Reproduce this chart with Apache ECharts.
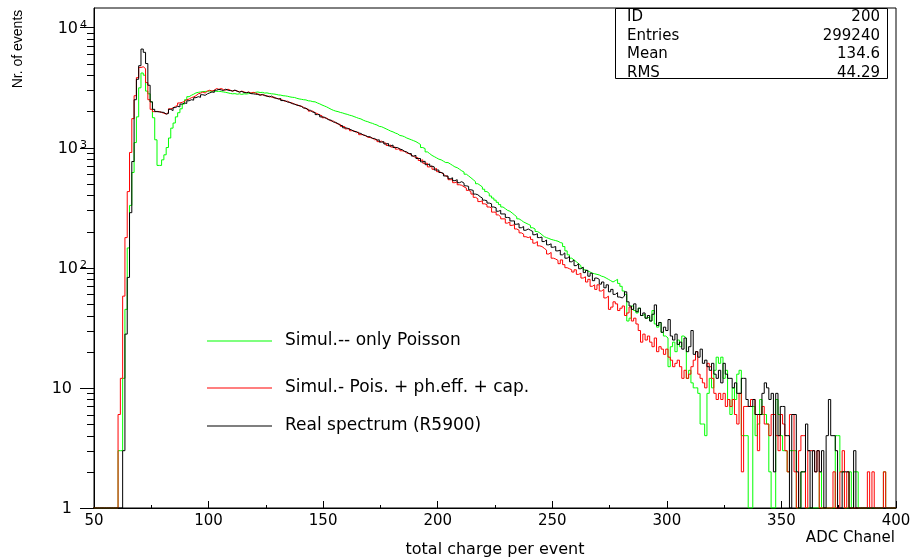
<!DOCTYPE html>
<html><head><meta charset="utf-8">
<script src="https://cdn.jsdelivr.net/npm/echarts@6/dist/echarts.min.js"></script>
<style>html,body{margin:0;padding:0;background:#fff}#c{width:920px;height:560px}</style>
</head><body><div id="c"></div>
<script>
// ---------------- data (counts per ADC channel, first channel = 50) ----------------
const firstChannel = 50;
const lastEdge = 400;

const realSpectrum = [
0,0,0,0,0,0,0,0,0,0,
0,0,0,3,28,83,287,765,2500,3700,
4800,6600,6200,5000,3300,2400,2080,1990,1980,1970,
1960,1900,1920,2080,2030,2150,2200,2180,2300,2350,
2330,2450,2500,2480,2600,2650,2620,2750,2720,2800,
2850,2900,2880,3000,3050,3020,2980,3060,3000,2980,
2950,3010,2940,2900,2930,2870,2860,2880,2810,2800,
2780,2770,2720,2770,2700,2690,2640,2680,2590,2580,
2530,2560,2460,2450,2390,2380,2320,2300,2250,2240,
2200,2130,2130,2050,2040,1970,1960,1880,1880,1800,
1790,1740,1700,1690,1630,1620,1580,1530,1520,1460,
1450,1420,1400,1360,1360,1320,1310,1270,1260,1230,
1230,1190,1190,1150,1160,1110,1120,1070,1080,1030,
1050,1000,1000,970,960,930,920,890,890,850,
860,810,810,760,770,720,730,700,690,650,
650,620,610,580,580,550,560,530,540,510,
520,505,480,475,445,440,410,405,390,380,
365,360,345,340,320,315,295,300,280,280,
262,260,245,245,230,232,215,220,205,210,
205,200,188,192,178,180,165,170,155,158,
148,150,138,140,128,133,120,124,112,116,
104,108,98,101,91,95,85,90,78,82,
80,73,76,68,72,63,66,60,62,57,
56,58,63,52,48,45,50,43,46,40,
42,38,40,36,41,49,33,35,29,32,
30,37,27,25,28,23,24,21,26,20,
22,30,19,20,18,21,16,17,15,14,
16,13,12,14,11,16,13,12,12,10,
11,9,9,12,12,8,7,7,8,6,
6,6,9,11,10,8,9,2,9,4,
7,7,4,4,0,6,6,2,0,2,
2,5,3,0,3,2,3,2,3,0,
4,8,4,4,3,0,0,2,2,2,
0,0,3,0,0,0,0,0,0,0,
0,0,0,0,0,0,0,0,0,0
];

const simPoisEffCap = [
0,0,0,0,0,0,0,0,0,0,
0,6,12,58,178,430,910,1740,2700,3820,
4640,4700,4540,3470,2500,2080,1990,2000,1990,1960,
1930,1900,1960,2100,2130,2200,2240,2350,2380,2420,
2500,2530,2600,2640,2700,2800,2830,2900,2840,2950,
3000,2950,3000,3100,3050,3100,3040,3000,3060,3000,
2950,2990,2960,2890,2950,2900,2860,2900,2840,2880,
2840,2790,2760,2740,2740,2660,2680,2620,2640,2560,
2560,2500,2480,2420,2430,2360,2350,2290,2280,2220,
2210,2160,2100,2090,2010,2010,1940,1920,1860,1840,
1770,1760,1710,1660,1660,1600,1570,1560,1500,1490,
1430,1440,1380,1380,1330,1340,1280,1280,1250,1220,
1210,1200,1160,1170,1120,1130,1090,1090,1040,1050,
1010,1010,970,980,940,930,900,890,870,840,
830,820,780,790,740,740,690,700,660,670,
630,620,600,580,570,540,540,510,520,490,
485,470,460,440,430,410,385,375,355,360,
340,335,320,315,290,290,275,265,255,255,
235,240,225,228,210,205,195,190,181,178,
181,172,160,165,152,150,145,140,130,134,
120,118,115,108,116,106,100,98,96,92,
96,88,90,82,84,76,80,70,72,66,
72,64,66,56,58,45,47,52,50,44,
46,48,40,42,47,36,38,34,30,24,
28,25,27,24,22,26,20,22,21,19,
21,18,17,15,16,17,15,12,14,12,
13,15,17,20,13,12,11,10,16,15,
12,9,8,9,8,9,7,8,7,8,
6,5,9,2,7,7,7,8,8,6,
3,6,7,5,5,4,6,6,4,3,
6,5,3,2,6,6,2,0,3,4,
4,0,3,3,3,2,3,0,0,0,
0,0,0,2,0,0,2,3,0,2,
0,0,0,0,0,0,0,0,2,0,
2,0,0,0,0,2,0,0,0,0
];

const simPoisson = [
0,0,0,0,0,0,0,0,0,0,
0,3,3,12,45,146,330,620,1100,1800,
3140,4170,4000,2950,2800,2400,1770,1160,710,710,
790,870,1000,1200,1450,1600,1800,1950,2100,2300,
2500,2650,2720,2780,2850,2880,2900,2920,2930,2940,
2950,2940,2960,2930,2940,2920,2900,2880,2850,2820,
2800,2810,2780,2800,2770,2800,2790,2810,2830,2860,
2880,2900,2870,2880,2840,2850,2820,2800,2790,2770,
2740,2730,2700,2690,2670,2640,2620,2610,2570,2540,
2520,2500,2490,2450,2440,2410,2400,2350,2310,2260,
2220,2180,2130,2080,2040,2010,1990,1960,1940,1910,
1890,1860,1840,1810,1780,1750,1730,1690,1660,1640,
1610,1590,1560,1540,1500,1490,1460,1430,1400,1370,
1350,1320,1300,1260,1250,1230,1200,1180,1160,1140,
1120,1090,1060,1000,980,920,890,860,840,820,
800,790,770,750,750,730,710,690,680,660,
640,625,600,580,560,540,520,500,485,470,
450,430,415,395,380,365,350,335,320,310,
300,295,285,275,265,255,248,240,235,230,
225,215,210,200,195,188,181,178,175,172,
170,168,166,162,160,150,138,128,120,116,
112,108,104,100,96,94,92,90,89,88,
87,85,84,82,80,78,76,78,80,74,
70,64,60,36,38,48,44,42,46,40,
41,38,39,36,44,34,32,35,29,27,
26,15,22,24,20,25,22,27,26,12,
14,11,10,10,9,5,5,4,9,12,
10,14,18,16,18,12,14,8,6,10,
8,13,14,4,4,4,0,0,7,4,
5,8,6,6,5,2,0,0,8,6,
4,3,3,2,3,3,3,0,0,2,
2,0,0,0,0,0,0,2,0,0,
0,0,0,0,4,4,2,2,0,0,
2,0,2,2,0,0,0,0,0,0,
0,0,0,0,0,2,0,0,0,0
];

const seriesNames = ['Simul.-- only Poisson', 'Simul.- Pois. + ph.eff. + cap.', 'Real spectrum (R5900)'];
const seriesColors = ['#00ff00', '#ff0000', '#000000'];
const xTickValues = [50, 100, 150, 200, 250, 300, 350, 400];
const yDecades = [1, 10, 100, 1000, 10000];
const yMinorMultipliers = [2, 3, 4, 5, 6, 7, 8, 9];
const statLabels = ['ID', 'Entries', 'Mean', 'RMS'];
const statValues = ['200', '299240', '134.6', '44.29'];
const xTitle = 'total charge per event';
const xUnitTitle = 'ADC Chanel';
const yTitle = 'Nr. of events';

// ---------------- chart ----------------
const FONT = 'DejaVu Sans';
const Y_MAX = 14500;

function toSteps(arr) {
  const pts = [];
  for (let i = 0; i < arr.length; i++) {
    const v = arr[i] > 0 ? arr[i] : 1; // empty bins drawn on the axis floor
    pts.push([firstChannel + i - 0.5, v]);
  }
  pts.push([lastEdge, arr[arr.length - 1] > 0 ? arr[arr.length - 1] : 1]);
  return pts;
}

const tickData = [];
yDecades.forEach(d => {
  tickData.push([xTickValues[0], d, 14]);
  if (d < 10000) yMinorMultipliers.forEach(m => tickData.push([xTickValues[0], d * m, 7]));
});

const chart = echarts.init(document.getElementById('c'), null, {renderer: 'canvas'});

const lineSeries = [simPoisson, simPoisEffCap, realSpectrum].map((arr, i) => ({
  name: seriesNames[i],
  type: 'line',
  step: 'end',
  data: toSteps(arr),
  showSymbol: false,
  symbol: 'none',
  lineStyle: {color: seriesColors[i], width: 1},
  itemStyle: {color: seriesColors[i]},
  color: seriesColors[i],
  clip: true,
  silent: true,
  z: 2 + i
}));

const legendTops = [332.5, 379.5, 417.5];

chart.setOption({
  animation: false,
  backgroundColor: '#fff',
  grid: {left: 94, right: 24, top: 8, bottom: 52, show: true, borderColor: '#000', borderWidth: 1,
         backgroundColor: 'transparent', outerBoundsMode: 'none', containLabel: false},
  legend: seriesNames.map((n, i) => ({
    data: [n], left: 207, top: legendTops[i], padding: 0, icon: 'rect',
    itemWidth: 65, itemHeight: 1, selectedMode: false,
    textStyle: {fontFamily: FONT, fontSize: 17, color: '#000', lineHeight: 16, padding: [0, 0, 0, 8]}
  })),
  xAxis: {
    type: 'value', min: xTickValues[0], max: xTickValues[xTickValues.length - 1], interval: 50,
    name: xTitle, nameLocation: 'middle', nameGap: 34,
    nameTextStyle: {fontFamily: FONT, fontSize: 16, color: '#000'},
    axisLine: {show: true, lineStyle: {color: '#000', width: 1}},
    axisTick: {show: true, inside: true, length: 7, lineStyle: {color: '#000'}},
    minorTick: {show: true, splitNumber: 2, length: 3, lineStyle: {color: '#000'}},
    axisLabel: {fontFamily: FONT, fontSize: 15, color: '#000', margin: 6},
    splitLine: {show: false}, minorSplitLine: {show: false}
  },
  yAxis: {
    type: 'log', logBase: 10, min: 1, max: Y_MAX,
    axisLine: {show: true, lineStyle: {color: '#000', width: 1}},
    axisTick: {show: false},
    splitLine: {show: false},
    axisLabel: {
      margin: 7,
      formatter: function (v) {
        const l = Math.log10(v);
        const e = Math.round(l);
        if (Math.abs(l - e) > 1e-6) return '';
        if (e === 0) return '{p|1}';
        if (e === 1) return '{p|10}';
        return '{b|10}{s|' + e + '}';
      },
      rich: {
        p: {fontFamily: FONT, fontSize: 16, color: '#000', lineHeight: 20, padding: [2, 15, 0, 0]},
        b: {fontFamily: FONT, fontSize: 16, color: '#000', lineHeight: 20, padding: [2, 0, 0, 0]},
        s: {fontFamily: FONT, fontSize: 11, color: '#000', lineHeight: 11, verticalAlign: 'top', padding: [2, 0, 0, 2]}
      }
    }
  },
  series: lineSeries.concat([{
    type: 'custom',
    silent: true,
    clip: false,
    z: 10,
    data: tickData,
    renderItem: function (params, api) {
      const p = api.coord([api.value(0), api.value(1)]);
      const len = api.value(2);
      const y = Math.round(p[1]) + 0.5;
      return {type: 'line', shape: {x1: p[0] - len, y1: y, x2: p[0], y2: y}, style: {stroke: '#000', lineWidth: 1}};
    }
  }]),
  graphic: [
    {type: 'rect', z: 100, shape: {x: 615.5, y: 8.5, width: 272, height: 70}, style: {fill: '#fff', stroke: '#000', lineWidth: 1}},
  ].concat(statLabels.map((t, i) => ({
    type: 'text', z: 101, x: 627, y: 17 + i * 18.7,
    style: {text: t, fontFamily: FONT, fontSize: 15, fill: '#000', align: 'left', verticalAlign: 'middle'}
  }))).concat(statValues.map((t, i) => ({
    type: 'text', z: 101, x: 880, y: 17 + i * 18.7,
    style: {text: t, fontFamily: FONT, fontSize: 15, fill: '#000', align: 'right', verticalAlign: 'middle'}
  }))).concat([
    {type: 'text', z: 101, x: 895, y: 538, style: {text: xUnitTitle, fontFamily: FONT, fontSize: 15, fill: '#000', align: 'right', verticalAlign: 'middle'}},
    {type: 'text', z: 101, x: 18, y: 49, rotation: Math.PI / 2, style: {text: yTitle, fontFamily: 'Liberation Sans', fontSize: 14, fill: '#000', align: 'center', verticalAlign: 'middle'}}
  ])
});
</script>
</body></html>
